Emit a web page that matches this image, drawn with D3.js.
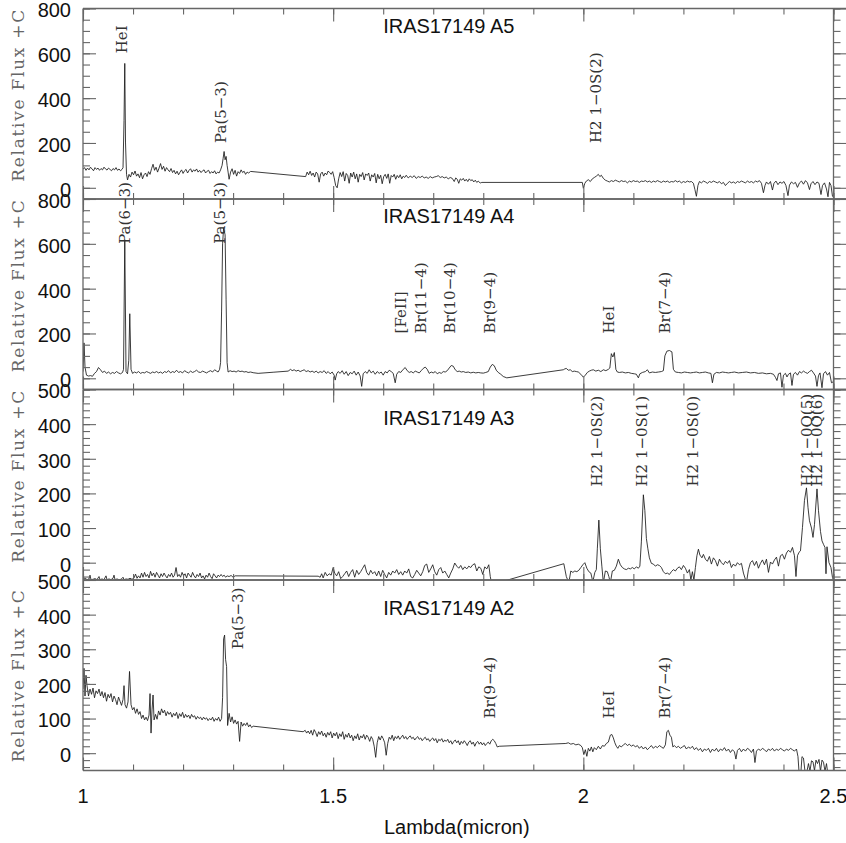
<!DOCTYPE html>
<html>
<head>
<meta charset="utf-8">
<script src="https://cdn.jsdelivr.net/npm/d3@7"></script>
<style>
  body { margin: 0; background: #fff; }
</style>
</head>
<body>
<script>
// ---- data ----
const panelNames = ["IRAS17149 A5", "IRAS17149 A4", "IRAS17149 A3", "IRAS17149 A2"];
const yDomains = [[-50, 800], [-50, 800], [-50, 500], [-50, 500]];
const yTickValues = [[0, 200, 400, 600, 800], [0, 200, 400, 600, 800], [0, 100, 200, 300, 400, 500], [0, 100, 200, 300, 400, 500]];
const yMinorSteps = [50, 50, 20, 20];
const xTickValues = [1, 1.5, 2, 2.5];
const xTickLabels = ["1", "1.5", "2", "2.5"];

// spectra: [lambda (micron), relative flux]
const specA5 = [
[1.000,82],[1.003,90],[1.006,78],[1.009,88],[1.012,80],[1.015,92],[1.018,84],[1.021,76],[1.024,90],[1.027,82],[1.030,88],[1.033,78],[1.036,86],[1.039,80],[1.042,92],[1.045,84],[1.048,79],[1.051,88],[1.054,82],[1.057,76],[1.060,86],[1.063,80],[1.066,90],[1.069,78],[1.072,84],[1.075,76],[1.078,82],[1.080,90],[1.082,300],[1.0835,555],[1.085,200],[1.087,60],[1.089,35],[1.092,60],[1.095,48],[1.098,70],[1.101,58],[1.104,75],[1.107,52],[1.110,62],[1.113,45],[1.116,68],[1.119,40],[1.122,58],[1.125,66],[1.128,50],[1.131,72],[1.134,60],[1.137,85],[1.140,105],[1.143,78],[1.146,92],[1.149,70],[1.152,88],[1.155,108],[1.158,82],[1.161,96],[1.164,74],[1.167,90],[1.170,80],[1.173,72],[1.176,86],[1.179,68],[1.182,78],[1.185,62],[1.188,74],[1.191,58],[1.194,70],[1.197,80],[1.200,64],[1.203,76],[1.206,82],[1.209,66],[1.212,78],[1.215,85],[1.218,70],[1.221,80],[1.224,74],[1.227,84],[1.230,70],[1.233,78],[1.236,68],[1.239,76],[1.242,80],[1.245,66],[1.248,74],[1.251,78],[1.254,64],[1.257,72],[1.260,66],[1.263,76],[1.266,62],[1.269,70],[1.272,66],[1.275,80],[1.278,100],[1.280,130],[1.282,162],[1.284,125],[1.286,140],[1.288,100],[1.290,70],[1.292,38],[1.295,70],[1.298,85],[1.301,60],[1.304,78],[1.307,52],[1.310,72],[1.313,64],[1.316,80],[1.319,68],[1.322,74],[1.325,60],[1.328,70],[1.331,66],[1.335,73],
[1.445,50],[1.448,70],[1.451,58],[1.454,74],[1.457,55],[1.460,66],[1.463,48],[1.466,70],[1.469,62],[1.472,25],[1.475,62],[1.478,70],[1.481,52],[1.484,66],[1.487,58],[1.490,75],[1.493,68],[1.496,60],[1.499,72],[1.502,45],[1.505,10],[1.508,0],[1.511,40],[1.514,68],[1.517,50],[1.520,72],[1.523,30],[1.526,64],[1.529,55],[1.532,20],[1.535,66],[1.538,48],[1.541,70],[1.544,40],[1.547,62],[1.550,25],[1.553,60],[1.556,50],[1.559,68],[1.562,35],[1.565,62],[1.568,55],[1.571,66],[1.574,30],[1.577,58],[1.580,48],[1.583,64],[1.586,22],[1.589,60],[1.592,40],[1.595,56],[1.598,18],[1.601,50],[1.604,60],[1.607,42],[1.610,62],[1.613,20],[1.616,55],[1.619,48],[1.622,60],[1.625,38],[1.628,55],[1.631,45],[1.634,58],[1.637,40],[1.640,52],[1.643,46],[1.646,56],[1.650,44],[1.654,52],[1.658,46],[1.662,54],[1.666,42],[1.670,50],[1.674,46],[1.678,52],[1.682,44],[1.686,48],[1.690,42],[1.694,50],[1.698,44],[1.702,48],[1.706,50],[1.710,54],[1.714,46],[1.718,50],[1.722,44],[1.726,48],[1.730,40],[1.734,46],[1.738,42],[1.742,28],[1.745,44],[1.748,38],[1.751,20],[1.754,40],[1.757,34],[1.760,42],[1.763,30],[1.766,38],[1.769,28],[1.772,40],[1.775,32],[1.778,36],[1.781,26],[1.784,34],[1.787,24],[1.790,30],[1.794,21],[1.797,24],
[1.998,24],[2.000,-2],[2.003,20],[2.006,30],[2.010,36],[2.014,28],[2.018,40],[2.022,46],[2.026,52],[2.030,60],[2.033,50],[2.036,56],[2.040,42],[2.044,34],[2.048,30],[2.052,26],[2.056,32],[2.060,28],[2.064,34],[2.068,30],[2.072,26],[2.076,32],[2.080,28],[2.084,30],[2.088,22],[2.092,30],[2.096,26],[2.100,32],[2.104,28],[2.108,30],[2.112,24],[2.116,30],[2.120,28],[2.124,32],[2.128,26],[2.132,30],[2.136,24],[2.140,30],[2.144,26],[2.148,32],[2.152,28],[2.156,24],[2.160,30],[2.164,26],[2.168,30],[2.172,24],[2.176,28],[2.180,26],[2.184,32],[2.188,26],[2.192,30],[2.196,22],[2.200,28],[2.204,24],[2.208,30],[2.212,26],[2.216,28],[2.220,20],[2.223,-8],[2.226,-38],[2.229,10],[2.232,28],[2.236,22],[2.240,30],[2.244,26],[2.248,20],[2.252,28],[2.256,24],[2.260,30],[2.264,26],[2.268,22],[2.272,28],[2.276,18],[2.280,24],[2.284,10],[2.288,20],[2.292,28],[2.296,22],[2.300,26],[2.304,20],[2.308,28],[2.312,24],[2.316,30],[2.320,26],[2.324,22],[2.328,30],[2.332,24],[2.336,28],[2.340,22],[2.344,30],[2.348,26],[2.352,32],[2.356,20],[2.360,-22],[2.363,10],[2.366,26],[2.370,16],[2.374,28],[2.378,-10],[2.381,20],[2.385,30],[2.389,14],[2.393,26],[2.397,20],[2.401,28],[2.405,10],[2.409,-35],[2.412,12],[2.416,26],[2.420,18],[2.424,24],[2.428,2],[2.432,22],[2.436,30],[2.440,16],[2.444,32],[2.448,22],[2.452,-8],[2.455,18],[2.459,28],[2.463,14],[2.467,26],[2.471,20],[2.475,-30],[2.478,10],[2.482,22],[2.486,-5],[2.489,-40],[2.492,24],[2.495,10],[2.498,-38],[2.500,-40]
];

const specA4 = [
[1.000,30],[1.002,158],[1.004,50],[1.007,14],[1.011,10],[1.015,12],[1.019,9],[1.023,22],[1.027,30],[1.031,48],[1.035,38],[1.039,26],[1.043,32],[1.047,22],[1.051,28],[1.055,20],[1.059,26],[1.063,22],[1.067,30],[1.071,24],[1.075,20],[1.079,26],[1.081,40],[1.0835,618],[1.086,30],[1.089,20],[1.0915,80],[1.0935,288],[1.096,40],[1.099,22],[1.103,28],[1.107,24],[1.111,30],[1.115,22],[1.119,26],[1.123,24],[1.127,30],[1.131,26],[1.135,22],[1.139,28],[1.143,25],[1.147,30],[1.151,24],[1.155,28],[1.159,22],[1.163,30],[1.167,26],[1.171,34],[1.175,24],[1.179,30],[1.183,26],[1.187,36],[1.191,26],[1.195,30],[1.199,24],[1.203,34],[1.207,28],[1.211,24],[1.215,32],[1.219,26],[1.223,30],[1.227,36],[1.231,28],[1.235,26],[1.239,32],[1.243,28],[1.247,24],[1.251,30],[1.255,34],[1.259,28],[1.263,38],[1.267,32],[1.270,28],[1.273,40],[1.275,70],[1.277,300],[1.279,600],[1.281,671],[1.284,640],[1.286,350],[1.288,70],[1.290,28],[1.294,34],[1.298,30],[1.302,32],[1.306,28],[1.310,34],[1.314,30],[1.318,32],[1.322,28],[1.326,30],[1.330,26],[1.335,28],[1.340,25],[1.350,22],[1.380,27],[1.410,32],[1.415,40],[1.418,34],[1.422,38],
[1.426,32],[1.430,36],[1.434,30],[1.438,34],[1.442,38],[1.446,30],[1.450,34],[1.454,28],[1.458,32],[1.462,26],[1.466,32],[1.470,24],[1.474,30],[1.478,26],[1.482,34],[1.486,22],[1.490,30],[1.494,20],[1.498,28],[1.502,14],[1.504,-8],[1.507,20],[1.510,30],[1.514,22],[1.518,34],[1.522,18],[1.526,30],[1.530,12],[1.534,26],[1.538,20],[1.542,32],[1.546,14],[1.550,28],[1.554,10],[1.557,-36],[1.560,20],[1.564,30],[1.568,22],[1.572,38],[1.576,24],[1.580,32],[1.584,18],[1.588,30],[1.592,22],[1.596,28],[1.600,14],[1.604,30],[1.608,24],[1.612,36],[1.616,30],[1.620,22],[1.624,-20],[1.627,18],[1.631,30],[1.635,26],[1.640,40],[1.644,48],[1.648,34],[1.652,26],[1.656,30],[1.660,24],[1.664,32],[1.668,28],[1.672,24],[1.676,34],[1.680,44],[1.684,50],[1.688,40],[1.692,22],[1.696,28],[1.700,24],[1.704,30],[1.708,20],[1.712,26],[1.716,22],[1.720,30],[1.724,28],[1.728,34],[1.732,46],[1.736,57],[1.740,54],[1.744,38],[1.748,30],[1.752,32],[1.756,28],[1.760,30],[1.765,26],[1.770,28],[1.775,24],[1.780,27],[1.785,24],[1.790,26],[1.795,24],[1.800,23],[1.805,26],[1.810,30],[1.814,50],[1.818,62],[1.822,56],[1.826,36],[1.830,26],[1.835,18],[1.840,8],[1.847,2],[1.960,38],[1.963,42],[1.966,44],[1.970,36],[1.974,38],[1.978,30],
[1.982,32],[1.986,30],[1.990,28],[1.995,18],[2.000,5],[2.004,14],[2.008,26],[2.012,32],[2.016,36],[2.020,38],[2.025,32],[2.030,36],[2.035,30],[2.040,38],[2.045,34],[2.050,40],[2.053,46],[2.056,110],[2.059,95],[2.062,115],[2.065,40],[2.068,28],[2.072,26],[2.078,28],[2.084,24],[2.090,26],[2.096,22],[2.102,20],[2.106,18],[2.110,2],[2.113,20],[2.118,26],[2.124,30],[2.128,38],[2.132,24],[2.138,28],[2.144,26],[2.150,28],[2.156,30],[2.160,34],[2.163,100],[2.167,121],[2.172,124],[2.177,118],[2.180,40],[2.184,28],[2.190,26],[2.196,24],[2.202,28],[2.208,26],[2.214,24],[2.220,26],[2.226,28],[2.232,24],[2.238,26],[2.244,28],[2.250,24],[2.255,22],[2.258,-20],[2.261,18],[2.266,26],[2.272,24],[2.278,28],[2.284,26],[2.290,24],[2.296,26],[2.302,28],[2.310,24],[2.318,26],[2.326,28],[2.334,24],[2.342,26],[2.350,22],[2.358,24],[2.366,20],[2.374,22],[2.380,18],[2.384,4],[2.387,-10],[2.390,20],[2.394,24],[2.397,-40],[2.400,14],[2.404,22],[2.407,6],[2.410,18],[2.414,24],[2.417,-32],[2.420,18],[2.424,26],[2.428,14],[2.432,30],[2.436,24],[2.440,32],[2.444,26],[2.448,22],[2.452,30],[2.456,36],[2.460,24],[2.464,10],[2.467,-36],[2.470,12],[2.473,24],[2.477,-42],[2.480,20],[2.484,30],[2.488,14],[2.492,26],[2.496,-20],[2.500,-15]
];

const specA3 = [
[1.000,-48],[1.004,-44],[1.008,-49],[1.012,-47],[1.014,-36],[1.016,-49],[1.020,-48],[1.024,-46],[1.028,-49],[1.032,-40],[1.034,-49],[1.038,-47],[1.042,-49],[1.046,-38],[1.048,-49],[1.052,-47],[1.056,-49],[1.060,-45],[1.062,-36],[1.064,-49],[1.068,-47],[1.072,-49],[1.076,-48],[1.080,-42],[1.082,-49],[1.086,-47],[1.090,-48],[1.094,-45],[1.098,-48],[1.102,-44],[1.105,-33],[1.108,-45],[1.111,-38],[1.114,-44],[1.117,-30],[1.120,-42],[1.123,-28],[1.126,-40],[1.129,-34],[1.132,-44],[1.135,-25],[1.138,-38],[1.141,-30],[1.144,-42],[1.147,-28],[1.150,-36],[1.153,-44],[1.156,-32],[1.159,-40],[1.162,-30],[1.165,-38],[1.168,-44],[1.171,-34],[1.174,-40],[1.177,-30],[1.180,-42],[1.183,-36],[1.186,-14],[1.189,-40],[1.192,-34],[1.195,-42],[1.198,-28],[1.201,-38],[1.204,-32],[1.207,-44],[1.210,-30],[1.213,-36],[1.216,-42],[1.219,-28],[1.222,-38],[1.225,-44],[1.228,-34],[1.231,-40],[1.234,-30],[1.237,-44],[1.240,-38],[1.243,-47],[1.246,-36],[1.249,-42],[1.252,-30],[1.255,-40],[1.258,-46],[1.261,-32],[1.264,-38],[1.267,-44],[1.270,-36],[1.273,-40],[1.276,-34],[1.279,-40],[1.282,-36],[1.285,-42],[1.288,-38],[1.292,-40],[1.296,-37],[1.300,-42],[1.304,-38],
[1.470,-39],[1.474,-42],[1.477,-32],[1.480,-44],[1.484,-28],[1.488,-38],[1.492,-32],[1.496,-36],[1.500,-14],[1.503,-30],[1.507,-38],[1.511,-26],[1.515,-46],[1.519,-40],[1.523,-32],[1.527,-24],[1.531,-40],[1.535,-28],[1.539,-20],[1.543,-42],[1.547,-22],[1.551,-34],[1.555,-26],[1.559,-16],[1.563,-6],[1.567,-28],[1.571,-36],[1.575,-22],[1.579,-32],[1.583,-26],[1.587,-38],[1.591,-24],[1.595,-40],[1.599,-22],[1.603,-34],[1.607,-44],[1.611,-28],[1.615,-36],[1.619,-24],[1.623,-30],[1.627,-20],[1.631,-34],[1.635,-26],[1.639,-36],[1.643,-24],[1.647,-30],[1.651,-18],[1.655,-40],[1.659,-44],[1.663,-34],[1.667,-22],[1.671,-30],[1.675,-38],[1.679,-26],[1.683,-8],[1.687,-4],[1.691,-28],[1.695,-18],[1.699,-6],[1.703,-26],[1.707,-36],[1.711,-20],[1.715,-14],[1.719,-30],[1.723,-24],[1.727,-34],[1.731,-44],[1.735,-30],[1.739,-18],[1.743,-1],[1.747,-10],[1.751,-16],[1.755,-8],[1.759,-20],[1.763,-12],[1.767,-18],[1.771,-10],[1.775,-14],[1.779,-6],[1.783,-3],[1.787,-24],[1.791,-12],[1.795,-16],[1.799,-34],[1.803,-12],[1.807,-18],[1.811,-6],[1.814,-40],[1.816,-55],[1.837,-55],[1.961,-3],[1.966,-40],[1.971,-58],[1.975,-24],[1.979,-28],[1.983,-24],
[1.987,-26],[1.991,-22],[1.995,-14],[1.999,-6],[2.003,0],[2.007,-16],[2.011,-26],[2.015,-30],[2.019,-55],[2.023,-28],[2.026,-20],[2.028,40],[2.031,123],[2.034,40],[2.037,-10],[2.040,-58],[2.044,-24],[2.048,-26],[2.051,-40],[2.054,-58],[2.058,-24],[2.062,-22],[2.066,-10],[2.070,10],[2.074,-6],[2.078,-14],[2.082,-18],[2.086,-20],[2.090,-16],[2.094,-18],[2.098,-14],[2.102,-18],[2.106,-12],[2.110,-16],[2.113,-10],[2.116,60],[2.120,196],[2.123,150],[2.126,70],[2.129,40],[2.132,14],[2.136,-2],[2.140,-4],[2.144,-10],[2.148,-6],[2.152,-8],[2.156,-14],[2.160,-26],[2.164,-32],[2.168,-30],[2.172,-34],[2.176,-26],[2.180,-20],[2.184,-24],[2.188,-16],[2.192,-12],[2.196,-20],[2.200,-8],[2.204,-16],[2.208,-30],[2.212,-20],[2.215,-50],[2.218,-26],[2.221,-50],[2.224,-14],[2.227,20],[2.230,39],[2.233,22],[2.237,14],[2.240,24],[2.244,10],[2.248,4],[2.252,18],[2.256,-4],[2.260,14],[2.264,6],[2.268,-10],[2.272,10],[2.276,0],[2.280,-6],[2.284,4],[2.288,-2],[2.292,6],[2.296,-14],[2.300,-4],[2.304,-10],[2.308,0],[2.312,-6],[2.316,-2],[2.320,-30],[2.326,-58],[2.330,-20],[2.334,0],[2.338,6],[2.342,-8],[2.346,4],[2.350,-16],[2.354,-2],[2.358,8],[2.362,-6],[2.366,10],[2.370,-28],[2.374,2],[2.378,-4],[2.382,8],[2.386,16],[2.390,-10],[2.394,20],[2.398,24],[2.402,10],[2.406,28],[2.410,36],[2.414,30],[2.418,44],[2.422,20],[2.425,-40],[2.428,20],[2.431,30],[2.434,34],[2.438,102],[2.442,180],[2.446,216],[2.449,160],[2.452,121],[2.456,100],[2.459,73],[2.462,110],[2.467,213],[2.470,150],[2.474,90],[2.477,63],[2.480,53],[2.483,44],[2.485,-32],[2.487,46],[2.491,0],[2.495,-14],[2.498,-43],[2.500,-50]
];

const specA2 = [
[1.000,185],[1.002,245],[1.004,165],[1.006,225],[1.008,195],[1.011,165],[1.014,185],[1.017,170],[1.020,188],[1.023,160],[1.026,180],[1.029,172],[1.032,185],[1.035,165],[1.038,178],[1.041,160],[1.044,175],[1.047,150],[1.050,170],[1.053,160],[1.056,172],[1.059,148],[1.062,165],[1.065,155],[1.068,140],[1.071,162],[1.074,150],[1.077,138],[1.080,155],[1.082,195],[1.084,140],[1.087,130],[1.090,148],[1.093,236],[1.096,140],[1.099,125],[1.102,132],[1.105,115],[1.108,128],[1.111,112],[1.114,120],[1.117,100],[1.120,110],[1.123,96],[1.126,104],[1.129,94],[1.132,110],[1.134,172],[1.136,58],[1.138,125],[1.140,168],[1.142,96],[1.145,112],[1.148,98],[1.151,122],[1.154,110],[1.157,128],[1.160,116],[1.163,124],[1.166,108],[1.169,120],[1.172,112],[1.175,118],[1.178,104],[1.181,115],[1.184,108],[1.187,118],[1.190,100],[1.193,114],[1.196,106],[1.199,118],[1.202,102],[1.205,112],[1.208,104],[1.211,110],[1.214,100],[1.217,112],[1.220,104],[1.223,108],[1.226,98],[1.229,106],[1.232,100],[1.235,104],[1.238,96],[1.241,104],[1.244,98],[1.247,102],[1.250,94],[1.253,100],[1.256,96],[1.259,104],[1.262,92],[1.265,100],[1.268,95],[1.271,104],[1.274,92],[1.277,100],[1.279,160],[1.281,330],[1.283,341],[1.285,270],[1.287,250],[1.289,80],[1.292,115],[1.295,90],[1.298,105],[1.301,86],[1.304,96],[1.307,84],[1.310,92],[1.313,34],[1.316,90],[1.319,78],[1.322,86],[1.325,80],[1.328,88],[1.331,76],[1.334,82],[1.337,74],[1.340,78],
[1.440,62],[1.444,66],[1.447,58],[1.450,64],[1.453,56],[1.456,66],[1.459,52],[1.462,68],[1.465,60],[1.468,48],[1.471,62],[1.474,54],[1.477,64],[1.480,50],[1.483,58],[1.486,46],[1.489,60],[1.492,52],[1.495,62],[1.498,44],[1.501,58],[1.504,50],[1.507,60],[1.510,42],[1.513,56],[1.516,48],[1.519,62],[1.522,40],[1.525,54],[1.528,46],[1.531,58],[1.534,44],[1.537,52],[1.540,36],[1.543,50],[1.546,42],[1.549,56],[1.552,38],[1.555,50],[1.558,44],[1.561,54],[1.564,40],[1.567,52],[1.570,46],[1.573,34],[1.576,48],[1.579,40],[1.582,20],[1.585,-12],[1.588,30],[1.591,48],[1.594,38],[1.597,50],[1.600,42],[1.603,30],[1.606,-6],[1.609,28],[1.612,46],[1.615,40],[1.618,52],[1.621,36],[1.624,48],[1.627,42],[1.630,50],[1.633,40],[1.636,46],[1.639,52],[1.642,42],[1.645,48],[1.648,40],[1.651,46],[1.654,50],[1.657,42],[1.660,46],[1.663,38],[1.666,44],[1.669,48],[1.672,40],[1.675,44],[1.678,36],[1.681,42],[1.684,46],[1.687,38],[1.690,42],[1.693,34],[1.696,40],[1.699,44],[1.702,36],[1.705,42],[1.708,30],[1.711,40],[1.714,36],[1.717,42],[1.720,32],[1.723,38],[1.726,34],[1.729,40],[1.732,30],[1.735,36],[1.738,26],[1.741,34],[1.744,38],[1.747,30],[1.750,36],[1.753,24],[1.756,34],[1.759,28],[1.762,36],[1.765,30],[1.768,22],[1.771,32],[1.774,36],[1.777,26],[1.780,32],[1.783,20],[1.786,30],[1.789,34],[1.792,26],[1.795,32],[1.798,24],[1.801,30],[1.804,22],[1.807,28],[1.810,32],[1.813,26],[1.816,36],[1.819,40],[1.822,36],[1.825,28],[1.828,18],[1.832,20],
[1.965,28],[1.970,30],[1.975,26],[1.980,28],[1.985,24],[1.990,26],[1.995,22],[1.998,16],[2.001,-4],[2.004,10],[2.007,-9],[2.010,14],[2.013,6],[2.016,18],[2.019,4],[2.022,16],[2.026,10],[2.030,20],[2.034,12],[2.038,22],[2.042,20],[2.046,28],[2.050,32],[2.054,52],[2.057,54],[2.060,44],[2.063,30],[2.066,20],[2.069,14],[2.072,22],[2.076,18],[2.080,24],[2.084,28],[2.088,22],[2.092,26],[2.096,20],[2.100,24],[2.104,18],[2.108,22],[2.112,14],[2.116,20],[2.120,12],[2.124,18],[2.128,10],[2.132,16],[2.136,22],[2.140,14],[2.144,20],[2.148,16],[2.152,22],[2.156,18],[2.160,14],[2.164,24],[2.167,62],[2.170,66],[2.173,52],[2.176,46],[2.179,18],[2.182,22],[2.186,16],[2.190,20],[2.194,14],[2.198,18],[2.202,22],[2.206,12],[2.210,18],[2.214,14],[2.218,20],[2.222,10],[2.226,16],[2.230,8],[2.234,14],[2.238,4],[2.242,12],[2.246,8],[2.250,14],[2.254,2],[2.258,12],[2.262,6],[2.266,14],[2.270,4],[2.274,12],[2.278,8],[2.282,16],[2.286,6],[2.290,12],[2.294,2],[2.298,10],[2.302,4],[2.305,-17],[2.308,8],[2.312,14],[2.316,4],[2.320,12],[2.324,6],[2.328,14],[2.332,10],[2.336,2],[2.340,12],[2.343,-27],[2.346,6],[2.350,12],[2.354,8],[2.358,14],[2.362,10],[2.366,4],[2.370,12],[2.374,8],[2.378,14],[2.382,6],[2.386,12],[2.390,8],[2.394,14],[2.398,10],[2.402,6],[2.406,12],[2.410,8],[2.414,14],[2.418,10],[2.422,6],[2.426,12],[2.429,-10],[2.431,-52],[2.435,-52],[2.437,-10],[2.440,-14],[2.443,-52],[2.447,-52],[2.450,-30],[2.453,-52],[2.456,-22],[2.459,-25],[2.462,-50],[2.465,-20],[2.468,-30],[2.471,-18],[2.474,-52],[2.477,-20],[2.480,-26],[2.483,-52],[2.486,-30],[2.488,-52]
];

// line identifications: label, wavelength where it is written, flux where it starts
const linesA5 = [
  {name: "HeI", lam: 1.087, y: 600},
  {name: "Pa(5\u22123)", lam: 1.285, y: 200},
  {name: "H2 1\u22120S(2)", lam: 2.035, y: 200}
];
const linesA4 = [
  {name: "Pa(6\u22123)", lam: 1.094, y: 600},
  {name: "Pa(5\u22123)", lam: 1.284, y: 600},
  {name: "[FeII]", lam: 1.646, y: 200},
  {name: "Br(11\u22124)", lam: 1.685, y: 200},
  {name: "Br(10\u22124)", lam: 1.744, y: 200},
  {name: "Br(9\u22124)", lam: 1.824, y: 200},
  {name: "HeI", lam: 2.062, y: 200},
  {name: "Br(7\u22124)", lam: 2.174, y: 200}
];
const linesA3 = [
  {name: "H2 1\u22120S(2)", lam: 2.037, y: 220},
  {name: "H2 1\u22120S(1)", lam: 2.128, y: 220},
  {name: "H2 1\u22120S(0)", lam: 2.230, y: 220},
  {name: "H2 1\u22120Q(5)", lam: 2.458, y: 220},
  {name: "H2 1\u22120Q(6)", lam: 2.478, y: 220}
];
const linesA2 = [
  {name: "Pa(5\u22123)", lam: 1.320, y: 300},
  {name: "Br(9\u22124)", lam: 1.824, y: 100},
  {name: "HeI", lam: 2.062, y: 100},
  {name: "Br(7\u22124)", lam: 2.174, y: 100}
];

const spectra = [specA5, specA4, specA3, specA2];
const lineSets = [linesA5, linesA4, linesA3, linesA2];

// ---- layout ----
const width = 846, height = 843;
const left = 83, right = 833.5;
const firstTop = 8.5, panelH = 190.5;
const titleDy = [24, 24, 35, 35];
const labelShift = [-8, -8, -8, 1];

const sans = "'Liberation Sans', Arial, Helvetica, sans-serif";
const serif = "'DejaVu Serif', 'Liberation Serif', serif";
const frameColor = "#666";

const svg = d3.select("body").append("svg")
  .attr("width", width)
  .attr("height", height);

const x = d3.scaleLinear().domain([1, 2.5]).range([left, right]);
const xMinor = d3.range(10, 26).map(d => d / 10);

const line = d3.line();

spectra.forEach((spec, i) => {
  const top = firstTop + i * panelH;
  const bottom = top + panelH;
  const y = d3.scaleLinear().domain(yDomains[i]).range([bottom, top]);
  const lo = yDomains[i][0], hi = yDomains[i][1], step = yMinorSteps[i];
  const yMinor = d3.range(Math.ceil(lo / step) * step, hi + 0.001, step);

  const g = svg.append("g").attr("class", "panel");

  // clip for the spectrum
  g.append("clipPath").attr("id", "clip" + i)
    .append("rect")
    .attr("x", left).attr("y", top)
    .attr("width", right - left).attr("height", panelH);

  // spectrum
  line.x(d => x(d[0])).y(d => y(d[1]));
  g.append("path")
    .datum(spec)
    .attr("clip-path", `url(#clip${i})`)
    .attr("fill", "none")
    .attr("stroke", "#1a1a1a")
    .attr("stroke-width", 0.85)
    .attr("stroke-linejoin", "round")
    .attr("d", line);

  // frame
  const frame = g.append("g")
    .attr("stroke", frameColor)
    .attr("stroke-width", 1.3);
  frame.append("line").attr("x1", left).attr("x2", width).attr("y1", top).attr("y2", top);
  frame.append("line").attr("x1", left).attr("x2", width).attr("y1", bottom).attr("y2", bottom);
  frame.append("line").attr("x1", left).attr("x2", left).attr("y1", top).attr("y2", bottom);
  frame.append("line").attr("x1", right).attr("x2", right).attr("y1", top).attr("y2", bottom);

  const styleTicks = sel => {
    sel.select(".domain").remove();
    sel.selectAll(".tick line").attr("stroke", frameColor).attr("stroke-width", 1.1);
  };

  // x ticks, top and bottom, pointing inward
  g.append("g").attr("transform", `translate(0,${bottom})`)
    .call(d3.axisBottom(x).tickValues(xMinor).tickSize(-6).tickFormat(""))
    .call(styleTicks);
  g.append("g").attr("transform", `translate(0,${bottom})`)
    .call(d3.axisBottom(x).tickValues(xTickValues).tickSize(-13).tickFormat(""))
    .call(styleTicks);
  g.append("g").attr("transform", `translate(0,${top})`)
    .call(d3.axisTop(x).tickValues(xMinor).tickSize(-6).tickFormat(""))
    .call(styleTicks);
  g.append("g").attr("transform", `translate(0,${top})`)
    .call(d3.axisTop(x).tickValues(xTickValues).tickSize(-13).tickFormat(""))
    .call(styleTicks);

  // y ticks, left side
  g.append("g").attr("transform", `translate(${left},0)`)
    .call(d3.axisLeft(y).tickValues(yMinor).tickSize(-7).tickFormat(""))
    .call(styleTicks);
  g.append("g").attr("transform", `translate(${left},0)`)
    .call(d3.axisLeft(y).tickValues(yTickValues[i]).tickSize(-13).tickPadding(12).tickFormat(d3.format("d")))
    .call(styleTicks)
    .call(a => a.selectAll("text")
      .attr("y", 2)
      .attr("fill", "#111")
      .style("font-family", sans)
      .style("font-size", "20px"));

  // y ticks, right side
  g.append("g").attr("transform", `translate(${right},0)`)
    .call(d3.axisRight(y).tickValues(yMinor).tickSize(7).tickFormat(""))
    .call(styleTicks);
  g.append("g").attr("transform", `translate(${right},0)`)
    .call(d3.axisRight(y).tickValues(yTickValues[i]).tickSize(13).tickFormat(""))
    .call(styleTicks);

  // y axis title
  const cy = (top + bottom) / 2 + labelShift[i];
  g.append("text")
    .attr("transform", `translate(24,${cy}) rotate(-90)`)
    .attr("text-anchor", "middle")
    .attr("textLength", 172)
    .attr("lengthAdjust", "spacing")
    .attr("fill", "#666")
    .style("font-family", serif)
    .style("font-size", "17px")
    .text("Relative Flux +C");

  // panel title
  g.append("text")
    .attr("x", x(1.6))
    .attr("y", top + titleDy[i])
    .attr("fill", "#111")
    .style("font-family", sans)
    .style("font-size", "20px")
    .text(panelNames[i]);

  // line identifications
  g.selectAll(".lineid")
    .data(lineSets[i])
    .join("text")
    .attr("class", "lineid")
    .attr("transform", d => `translate(${x(d.lam)},${y(d.y)}) rotate(-90)`)
    .attr("fill", "#333")
    .style("font-family", serif)
    .style("font-size", "15px")
    .text(d => d.name);
});

// x tick labels under the last panel
const lastBottom = firstTop + 4 * panelH;
svg.append("g")
  .selectAll("text")
  .data(xTickValues)
  .join("text")
  .attr("x", d => x(d))
  .attr("y", lastBottom + 32)
  .attr("text-anchor", "middle")
  .attr("fill", "#111")
  .style("font-family", sans)
  .style("font-size", "20px")
  .text((d, i) => xTickLabels[i]);

svg.append("text")
  .attr("x", x(1.747))
  .attr("y", lastBottom + 63)
  .attr("text-anchor", "middle")
  .attr("fill", "#111")
  .style("font-family", sans)
  .style("font-size", "20px")
  .text("Lambda(micron)");
</script>
</body>
</html>
